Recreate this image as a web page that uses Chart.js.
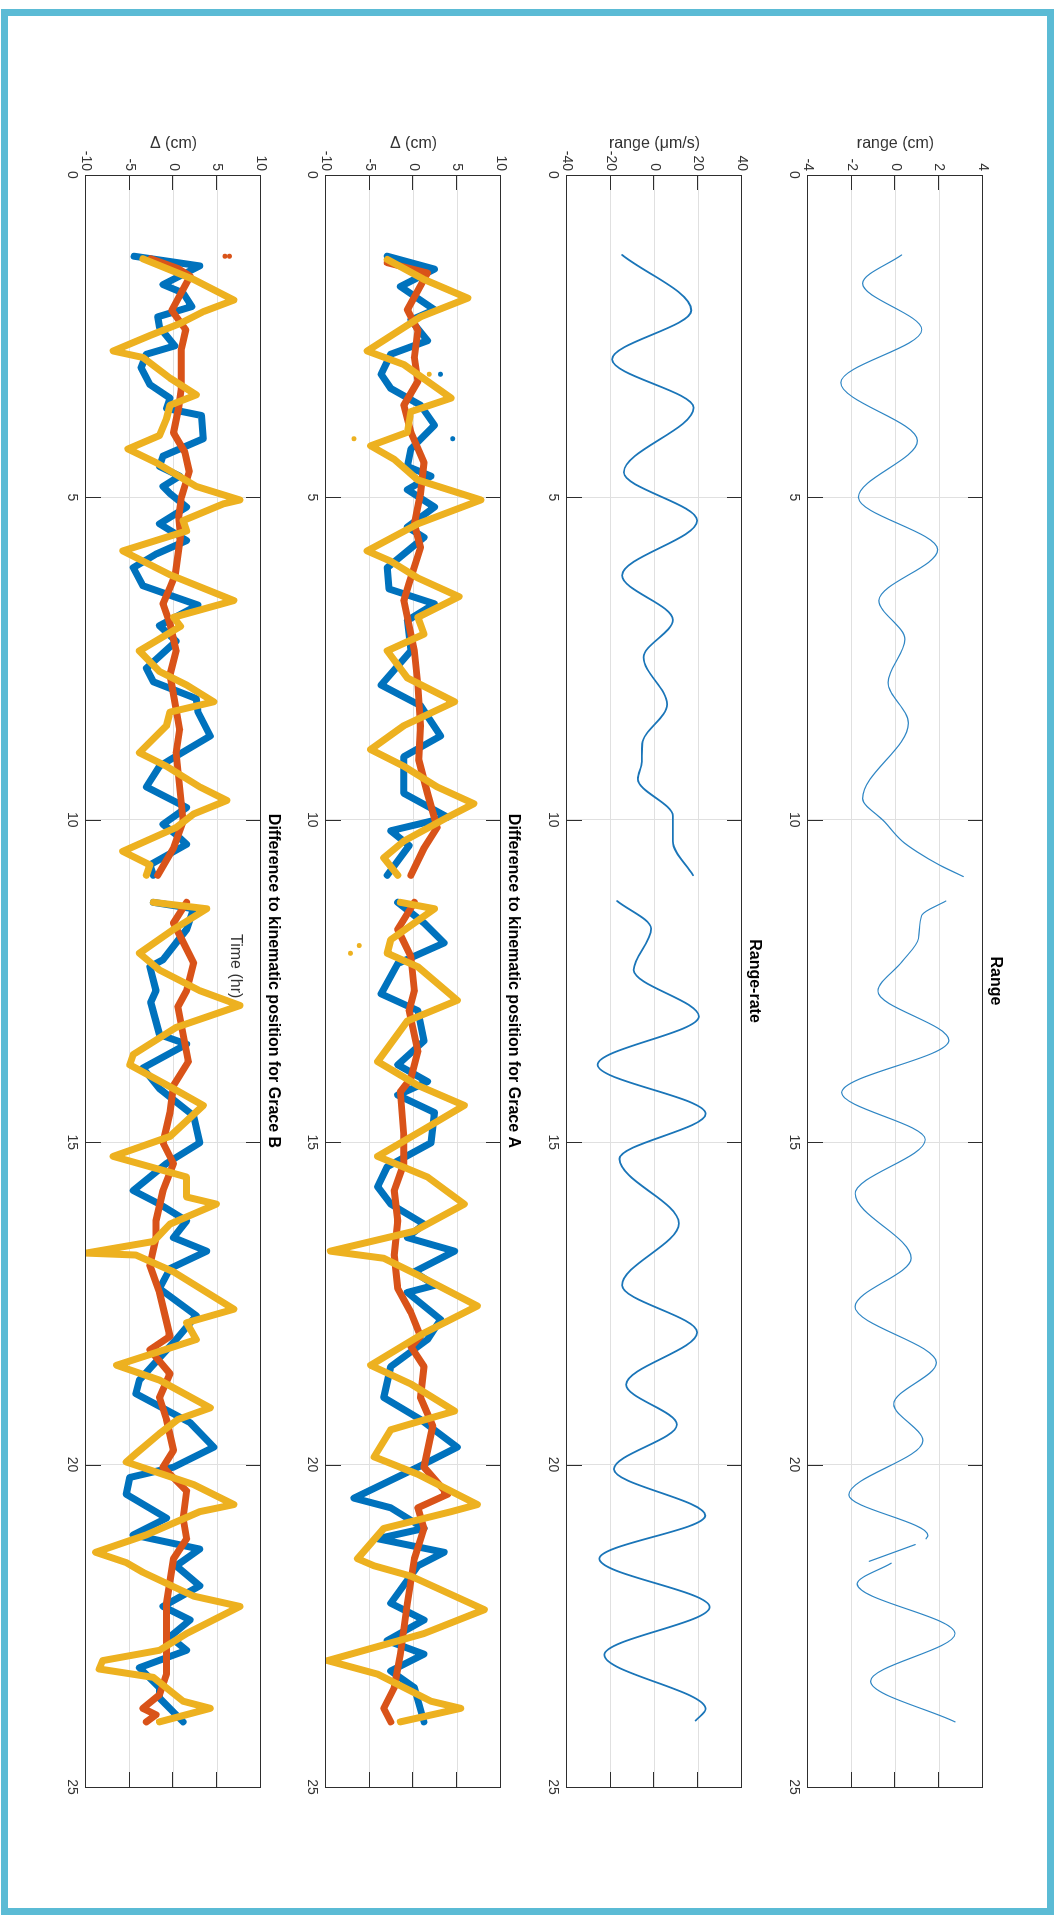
<!DOCTYPE html>
<html>
<head>
<meta charset="utf-8">
<script src="https://cdn.jsdelivr.net/npm/chart.js@4.4.1/dist/chart.umd.min.js"></script>
<style>
  html, body { margin: 0; padding: 0; background: #fff; overflow: hidden; }
  body { width: 1058px; height: 1916px; position: relative; }
  #frame { position: absolute; left: 1px; top: 9px; width: 1053px; height: 1906px; box-sizing: border-box; border: 7px solid #5bbbd5; }
  /* whole MATLAB figure is laid out landscape, then turned a quarter clockwise */
  #sheet { position: absolute; left: 0; top: 0; width: 1916px; height: 1058px; transform-origin: 0 0; transform: translate(1058px, 0) rotate(90deg); }
  #sheet canvas { position: absolute; left: 0; width: 1916px; height: 242px; }
</style>
</head>
<body>
<div id="frame"></div>
<div id="sheet">
  <canvas id="cRange" width="1916" height="242" style="top:53px"></canvas>
  <canvas id="cRate" width="1916" height="242" style="top:294px"></canvas>
  <canvas id="cA" width="1916" height="242" style="top:535px"></canvas>
  <canvas id="cB" width="1916" height="242" style="top:775px"></canvas>
</div>
<script>
// tick labels
var timeTicks = [0, 5, 10, 15, 20, 25];
var rangeTicks = [-4, -2, 0, 2, 4];
var rateTicks = [-40, -20, 0, 20, 40];
var deltaTicks = [-10, -5, 0, 5, 10];

// [time (hr), value]; null = data gap
var rangeData = [[1.24,0.28],[1.68,-1.5],[2.4,1.2],[3.22,-2.5],[4.12,1.0],[5.0,-1.7],[5.81,1.93],[6.6,-0.76],[7.2,0.43],[7.87,-0.34],[8.5,0.59],[9.67,-1.5],[10.03,-0.5],[10.33,0.3],[10.5,1.0],[10.7,2.0],[10.88,3.1],[11.05,null],
  [11.26,2.3],[11.48,1.2],[11.84,1.05],[12.2,0.3],[12.66,-0.8],[13.42,2.44],[14.23,-2.46],[14.96,1.36],[15.8,-1.84],[16.8,0.71],[17.55,-1.85],[18.42,1.87],[19.06,-0.08],[19.63,1.25],[20.47,-2.13],[21.1,1.48],[21.15,1.4],[21.2,null],
  [21.24,0.9],[21.5,-1.2],[21.52,null],[21.53,-0.2],[21.85,-1.75],[22.62,2.72],[23.36,-1.14],[23.99,2.72]];

var rateData = [[1.24,-14.8],[2.10,16.8],[2.86,-19.4],[3.61,17.9],[4.61,-14.0],[5.36,19.5],[6.21,-14.8],[6.9,8.4],[7.48,-5.0],[8.21,5.8],[8.82,-5.6],[9.1,-5.8],[9.37,-7.6],[9.94,8.4],[10.33,8.4],[10.86,17.6],[11.05,null],
  [11.26,-17.1],[11.69,-1.5],[12.33,-9.5],[13.05,20.3],[13.8,-26],[14.56,23.4],[15.26,-16],[16.26,11.1],[17.22,-14.8],[17.95,19.5],[18.76,-13],[19.38,10.2],[20.07,-18.6],[20.79,23.2],[21.46,-25.2],[22.21,25.2],[22.95,-22.9],[23.79,23.4],[23.97,18.8]];

var aBlue = [[1.26,-3.0],[1.46,2.4],[1.73,-1.5],[2.09,2.4],[2.25,-0.3],[2.57,1.6],[2.78,-2.6],[3.09,-3.7],[3.31,-2.6],[3.57,0.8],[3.88,2.4],[4.25,-0.3],[4.52,-0.7],[4.67,2.0],[4.88,-0.7],[5.15,2.4],[5.46,-0.7],[5.62,1.2],[6.09,-3.0],[6.42,-2.8],[6.65,2.4],[6.91,-0.7],[7.38,-0.3],[7.91,-3.7],[8.23,0.8],[8.7,3.1],[9.02,-1.1],[9.59,-1.1],[9.96,3.9],[10.17,-2.6],[10.4,-0.5],[10.86,-3.0],[11.05,null],
  [11.28,-1.8],[11.6,1.2],[11.91,3.5],[12.23,-1.8],[12.7,-3.7],[12.96,0.5],[13.43,1.2],[13.8,-1.8],[14.06,1.6],[14.27,-1.8],[14.54,2.4],[15.01,2.0],[15.38,-3.0],[15.69,-4.1],[15.96,-2.6],[16.27,1.2],[16.48,-0.7],[16.69,4.7],[17.01,0.1],[17.22,2.4],[17.33,-0.7],[17.75,3.1],[18.06,1.6],[18.48,-2.6],[18.96,-3.4],[19.3,0.8],[19.73,5.0],[20.04,0.5],[20.52,-6.8],[20.67,-2.6],[20.99,1.2],[21.15,-4.1],[21.36,3.5],[21.57,0.5],[22.15,-2.6],[22.41,1.2],[22.73,-3.0],[22.94,1.2],[23.2,-2.6],[23.46,0.1],[23.99,1.2]];
var aRed = [[1.36,-3.0],[1.52,1.6],[2.09,-0.7],[2.41,0.5],[2.83,0.1],[3.2,0.5],[3.57,-1.1],[3.99,-0.3],[4.46,1.2],[4.94,0.8],[5.41,0.1],[5.78,0.8],[6.33,-0.5],[6.6,-1.1],[7.38,0.1],[7.91,0.5],[8.54,0.8],[9.07,0.6],[9.59,1.6],[10.12,2.7],[10.44,1.2],[10.86,-0.3],[11.05,null],
  [11.28,0.1],[11.7,-1.8],[12.12,-0.3],[12.65,0.1],[12.96,-0.5],[13.59,0.5],[14.01,-0.3],[14.22,-1.5],[14.91,-1.1],[15.33,-1.1],[15.75,-2.2],[16.22,-1.8],[16.75,-2.2],[17.27,-1.8],[17.64,-0.3],[18.01,0.8],[18.17,-0.3],[18.48,1.2],[18.96,0.8],[19.4,2.2],[20.04,1.2],[20.46,3.9],[20.67,0.5],[20.99,1.2],[21.46,0.1],[22.15,-0.7],[22.94,-1.5],[23.46,-2.2],[23.78,-3.4],[23.99,-2.6]];
var aYellow = [[1.31,-3.0],[1.62,1.2],[1.91,6.2],[2.2,0.8],[2.73,-5.3],[2.94,-1.1],[3.46,4.3],[3.67,-0.3],[3.99,-0.7],[4.2,-4.9],[4.41,-2.2],[4.73,0.5],[5.04,7.7],[5.41,0.5],[5.83,-5.3],[5.99,-2.6],[6.25,0.5],[6.54,5.2],[6.86,0.5],[7.12,1.2],[7.38,-3.0],[7.8,-0.7],[8.17,4.7],[8.54,-1.1],[8.91,-4.9],[9.17,-1.1],[9.49,2.7],[9.75,6.9],[9.96,3.9],[10.33,-1.1],[10.59,-3.4],[10.86,-1.8],[11.05,null],
  [11.28,-1.5],[11.38,2.4],[11.86,-2.6],[12.07,-3.0],[12.28,0.5],[12.8,5.0],[13.12,-0.7],[13.75,-4.1],[14.12,0.5],[14.43,5.8],[14.8,1.2],[15.22,-4.1],[15.54,1.6],[15.96,5.8],[16.38,0.1],[16.69,-9.5],[16.8,-3.4],[17.06,0.5],[17.54,7.3],[17.96,1.2],[18.46,-4.9],[18.75,-0.3],[19.17,4.7],[19.3,1.4],[19.46,-2.6],[19.88,-4.5],[20.15,0.5],[20.62,7.3],[20.73,4.3],[20.99,-3.4],[21.46,-6.4],[21.57,-4.5],[21.73,-0.3],[22.25,8.1],[22.62,1.2],[23.04,-9.8],[23.25,-4.1],[23.67,2.0],[23.78,5.4],[23.99,-1.5]];
var aDots = [[3.09,1.8],[4.09,-6.8],[11.95,-6.2],[12.07,-7.2]];
var aBlueDots = [[3.09,3.1],[4.09,4.5]];

var bBlue = [[1.26,-4.5],[1.41,3.0],[1.7,-1.2],[1.83,1.1],[2.04,2.1],[2.2,-1.8],[2.36,-1.6],[2.65,0.15],[2.78,-3.1],[2.99,-3.7],[3.25,-2.7],[3.46,-0.4],[3.62,-0.8],[3.73,3.2],[4.09,3.4],[4.36,-1.2],[4.52,-1.6],[4.67,0.7],[4.83,-1.2],[4.94,-0.4],[5.15,1.5],[5.41,-1.6],[5.67,1.5],[5.88,-2.0],[6.09,-4.6],[6.37,-3.5],[6.67,2.8],[6.99,-1.6],[7.23,0.3],[7.65,-3.1],[7.86,-2.3],[8.12,2.6],[8.33,2.8],[8.7,4.2],[9.07,-0.4],[9.17,-1.6],[9.49,-3.1],[9.81,1.5],[10.07,-1.2],[10.23,0.3],[10.38,1.5],[10.7,-2.7],[10.86,-2.3],[11.05,null],
  [11.28,-2.3],[11.38,2.3],[11.7,1.5],[12.17,-1.2],[12.28,-2.7],[12.65,-2.0],[12.83,-2.6],[13.33,-1.6],[13.48,1.5],[13.85,-3.5],[14.17,-1.6],[14.59,2.3],[15.01,3.0],[15.33,-0.8],[15.75,-4.6],[15.96,-1.6],[16.22,1.5],[16.48,0],[16.69,3.8],[16.96,-0.4],[17.27,-1.6],[17.69,2.6],[18.06,0.3],[18.69,-3.9],[18.9,-4.3],[19.35,1.9],[19.73,4.6],[20.04,0],[20.2,-5.0],[20.46,-5.4],[20.83,-0.8],[21.09,-4.6],[21.31,3.0],[21.57,0.3],[21.88,3.0],[22.2,-1.2],[22.41,1.9],[22.67,-0.4],[22.88,1.5],[23.15,-3.9],[23.46,-1.6],[23.62,-1.6],[23.99,1.1]];
var bRed = [[1.3,-2.6],[1.45,0.5],[1.57,1.9],[2.1,-0.2],[2.4,1.4],[2.7,0.9],[3.3,0.9],[3.6,0.6],[4.0,0.0],[4.3,1.3],[4.6,1.8],[5.0,0.9],[5.3,0.6],[5.6,0.8],[6.2,0.2],[6.4,-0.4],[6.65,-1.2],[6.96,-0.4],[7.38,0.3],[7.75,-0.4],[8.6,0.7],[8.96,0.3],[9.75,0.9],[10.02,1.1],[10.44,0],[10.86,-1.8],[11.05,null],
  [11.28,1.5],[11.6,0],[12.22,2.3],[12.65,1.5],[12.9,0.5],[13.33,1.1],[13.75,1.7],[14.12,0],[14.54,-0.4],[15.01,-1.2],[15.33,0],[15.75,-1.2],[16.22,-2.0],[16.48,-2.0],[16.91,-2.7],[17.33,-1.6],[18.01,-0.4],[18.22,-2.7],[18.59,-0.4],[18.96,-1.6],[19.3,-0.8],[19.78,0],[20.04,-1.2],[20.41,1.5],[20.83,1.1],[21.15,1.5],[21.46,0],[22.15,-0.8],[22.67,-0.8],[23.25,-0.8],[23.57,-1.6],[23.78,-3.5],[23.88,-2.0],[23.99,-3.1]];
var bYellow = [[1.3,-3.5],[1.62,2.3],[1.94,6.9],[2.12,3.4],[2.3,0.8],[2.49,-2.7],[2.73,-6.9],[2.83,-3.5],[3.15,-0.4],[3.41,2.6],[3.57,-0.4],[3.78,-0.8],[4.04,-1.6],[4.25,-5.2],[4.46,-2.0],[4.83,2.6],[5.04,7.6],[5.1,5.7],[5.36,1.1],[5.52,1.5],[5.83,-5.8],[6.2,-0.4],[6.6,6.9],[6.86,0],[7.0,0.8],[7.38,-3.9],[7.7,-1.6],[7.91,1.5],[8.17,4.6],[8.33,-0.4],[8.54,-0.8],[8.96,-3.9],[9.17,-0.8],[9.49,3.0],[9.7,6.1],[9.91,2.3],[10.12,0.3],[10.49,-5.8],[10.7,-2.7],[10.86,-3.1],[11.05,null],
  [11.28,-2.3],[11.38,3.8],[11.7,0],[12.07,-3.9],[12.33,-1.6],[12.65,3.0],[12.88,7.6],[13.22,0.3],[13.64,-4.6],[13.8,-5.0],[14.17,0],[14.43,3.4],[14.91,-0.4],[15.22,-6.9],[15.54,1.5],[15.85,1.5],[15.96,4.9],[16.27,-0.4],[16.54,-2.3],[16.72,-10],[16.75,-4.3],[17.01,0],[17.59,6.9],[17.8,1.5],[18.06,2.6],[18.46,-6.5],[18.69,-1.6],[19.12,4.2],[19.3,0.5],[19.52,-1.6],[19.83,-4.3],[19.96,-5.4],[20.31,2.3],[20.62,6.9],[20.73,3.0],[21.09,-3.1],[21.36,-8.9],[21.52,-5.4],[21.67,-3.5],[22.04,2.3],[22.2,7.6],[22.62,1.5],[22.88,-1.6],[23.04,-8.1],[23.17,-8.5],[23.3,-2.3],[23.67,1.1],[23.78,4.2],[23.99,-1.6]];
var bRedDots = [[1.26,5.9],[1.26,6.4]];

// where MATLAB left the x-label: inside the last axes, at (time, Δ)
var xLabelText = 'Time (hr)';
var xLabelAt = [12.27, 7.1];

var BLUE = '#0072BD', RED = '#D95319', YELLOW = '#EDB120';
var GRID = '#e0e0e0', TXT = '#333333';

Chart.defaults.font.family = "'Liberation Sans', Arial, Helvetica, sans-serif";

function pts(pairs) { return pairs.map(function (p) { return { x: p[0], y: p[1] }; }); }

function trace(pairs, color, order, width, smooth) {
  return {
    data: pts(pairs), showLine: true, spanGaps: false,
    borderColor: color, backgroundColor: color, borderWidth: width,
    pointRadius: 0, order: order,
    cubicInterpolationMode: smooth ? 'monotone' : 'default', tension: 0,
    borderJoinStyle: 'round', borderCapStyle: 'round'
  };
}
function dots(pairs, color, order) {
  return { data: pts(pairs), showLine: false, pointRadius: 2.5, borderWidth: 0, backgroundColor: color, order: order };
}

// MATLAB-like box with inward ticks on all four sides
var matlabBox = {
  id: 'matlabBox',
  afterDatasetsDraw: function (chart) {
    var ctx = chart.ctx, a = chart.chartArea, x = chart.scales.x, y = chart.scales.y, len = 15;
    ctx.save();
    ctx.strokeStyle = '#2e2e2e';
    ctx.lineWidth = 1;
    ctx.beginPath();
    x.ticks.forEach(function (t) {
      var px = Math.round(x.getPixelForValue(t.value)) + 0.5;
      ctx.moveTo(px, a.bottom); ctx.lineTo(px, a.bottom - len);
      ctx.moveTo(px, a.top); ctx.lineTo(px, a.top + len);
    });
    y.ticks.forEach(function (t) {
      var py = Math.round(y.getPixelForValue(t.value)) + 0.5;
      ctx.moveTo(a.left, py); ctx.lineTo(a.left + len, py);
      ctx.moveTo(a.right, py); ctx.lineTo(a.right - len, py);
    });
    ctx.stroke();
    ctx.strokeRect(Math.round(a.left) + 0.5, Math.round(a.top) + 0.5, Math.round(a.right - a.left), Math.round(a.bottom - a.top));
    ctx.restore();
  }
};

// the stray x-label, drawn over the data like MATLAB text
var xLabel = {
  id: 'xLabel',
  afterDatasetsDraw: function (chart, args, opts) {
    if (!opts.text) return;
    var ctx = chart.ctx;
    ctx.save();
    ctx.font = "16px 'Liberation Sans', Arial, sans-serif";
    ctx.fillStyle = TXT;
    ctx.textAlign = 'center';
    ctx.textBaseline = 'middle';
    ctx.fillText(opts.text, chart.scales.x.getPixelForValue(opts.at[0]), chart.scales.y.getPixelForValue(opts.at[1]));
    ctx.restore();
  }
};

function panel(id, title, ylabel, yTicks, datasets, xTitle) {
  new Chart(document.getElementById(id), {
    type: 'scatter',
    data: { datasets: datasets },
    options: {
      responsive: false, animation: false, events: [],
      layout: { padding: { left: 134, right: 129, top: 0, bottom: 0 } },
      plugins: {
        legend: { display: false },
        tooltip: { enabled: false },
        title: { display: true, text: title, fullSize: false, color: '#000', font: { size: 16, weight: 'bold' }, padding: { top: 0, bottom: 2.8 } },
        xLabel: { text: xTitle || '', at: xLabelAt }
      },
      scales: {
        x: {
          type: 'linear', min: 0, max: 25,
          afterBuildTicks: function (s) { s.ticks = timeTicks.map(function (v) { return { value: v }; }); },
          afterFit: function (s) { s.height = 45; },
          grid: { color: GRID, drawTicks: false },
          border: { display: false },
          ticks: { padding: 6, color: TXT, font: { size: 14 }, maxRotation: 0, autoSkip: false }
        },
        y: {
          type: 'linear', min: yTicks[0], max: yTicks[yTicks.length - 1],
          afterBuildTicks: function (s) { s.ticks = yTicks.map(function (v) { return { value: v }; }); },
          afterFit: function (s) { s.width = 41; },
          grid: { color: GRID, drawTicks: false },
          border: { display: false },
          ticks: { padding: 4, color: TXT, font: { size: 14 }, autoSkip: false },
          title: { display: true, text: ylabel, color: TXT, font: { size: 16 }, padding: 0 }
        }
      }
    },
    plugins: [matlabBox, xLabel]
  });
}

panel('cRange', 'Range', 'range (cm)', rangeTicks, [trace(rangeData, '#2f86c4', 1, 1.2, true)]);
panel('cRate', 'Range-rate', 'range (\u03bcm/s)', rateTicks, [trace(rateData, '#1a75b8', 1, 1.8, true)]);
panel('cA', 'Difference to kinematic position for Grace A', '\u0394 (cm)', deltaTicks, [
  trace(aBlue, BLUE, 3, 7), dots(aBlueDots, BLUE, 3),
  trace(aRed, RED, 2, 7),
  trace(aYellow, YELLOW, 1, 7), dots(aDots, YELLOW, 1)
]);
panel('cB', 'Difference to kinematic position for Grace B', '\u0394 (cm)', deltaTicks, [
  trace(bBlue, BLUE, 3, 7),
  trace(bRed, RED, 2, 7), dots(bRedDots, RED, 2),
  trace(bYellow, YELLOW, 1, 7)
], xLabelText);
</script>
</body>
</html>
